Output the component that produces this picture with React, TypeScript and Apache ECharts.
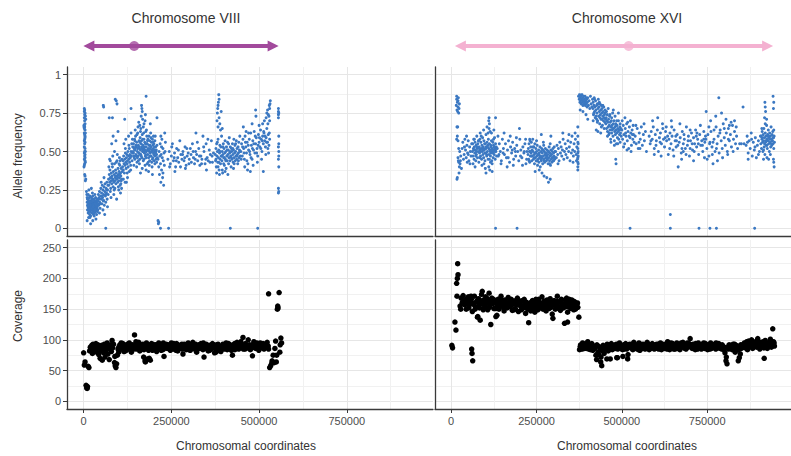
import React, { useEffect, useRef } from "react";
import * as echarts from "echarts";

// ---------- axis & layout values ----------
const X_MIN = -47403;
const X_MAX = 995469;
const X_TICKS = [0, 250000, 500000, 750000];
const X_MINOR = [125000, 375000, 625000, 875000];
const AF_MIN = -0.05;
const AF_MAX = 1.05;
const AF_TICKS = [0, 0.25, 0.5, 0.75, 1];
const AF_MINOR = [0.125, 0.375, 0.625, 0.875];
const COV_MIN = -12.5;
const COV_MAX = 262.5;
const COV_TICKS = [0, 50, 100, 150, 200, 250];
const COV_MINOR = [25, 75, 125, 175, 225];

const TITLES = ["Chromosome VIII", "Chromosome XVI"];
const Y_TITLES = ["Allele frequency", "Coverage"];
const X_TITLE = "Chromosomal coordinates";

// chromosome arrows (start, end) and centromere position, in bp
const ARROW_VIII = [15000, 540000];
const CENTRO_VIII = 144000;
const ARROW_XVI = [27000, 927000];
const CENTRO_XVI = 520000;

// ---------- data: [position kb, allele frequency %] ----------
const AF_VIII: number[][] = [
[1,40],[1,67],[2,78],[2,76],[3,74],[2,72],[3,70],[4,68],[2,67],[3,66],[4,64],[2,62],[3,61],[4,60],[3,58],[2,57],[4,56],[3,55],[2,53],[4,52],[3,50],[2,49],[4,48],[3,47],[2,45],[4,44],[3,42],[2,41],[5,43],[4,75],[3,77],[1,66],[5,62],[4,59],[5,50],[3,35],[4,34],[6,32],[5,31],[2,65],[4,46],[6,71],[5,73],
[8,24],[9,22],[10,20],[10,17],[11,15],[11,12],[12,19],[12,14],[13,10],[13,22],[14,16],[14,13],[15,18],[15,11],[16,14],[16,20],[17,9],[17,16],[18,13],[18,21],[19,15],[19,11],[20,18],[20,8],[21,14],[21,12],[22,17],[22,20],[23,13],[23,10],[24,16],[24,19],[25,12],[25,15],[26,14],[26,21],[27,11],[27,17],[28,13],[28,9],[29,16],[29,19],[30,14],[30,12],[31,18],[31,10],[32,15],[32,22],[33,13],[33,17],[34,11],[34,20],[35,16],[35,14],[36,12],[36,18],[37,15],[37,9],[38,17],[38,13],[39,19],[39,14],[40,16],[40,12],[10,5],[14,7],[20,3],[26,5],[30,8],[35,6],[15,25],[25,23],[22,26],[18,7],
[12,17],[16,12],[20,15],[24,13],[28,18],[32,12],[36,15],[11,19],[19,17],[27,14],[33,16],[39,11],
[41,18],[42,22],[43,15],[44,20],[45,24],[46,17],[47,13],[48,21],[49,26],[50,19],[51,23],[52,16],[53,28],[54,20],[55,25],[56,18],[57,22],[58,27],[59,15],[60,24],[61,29],[62,21],[63,17],[64,26],[65,23],[66,30],[67,19],[68,25],[69,28],[70,22],[45,10],[55,12],[60,9],[68,14],[50,30],[58,33],[43,19],[47,16],[53,21],[57,18],[63,22],[66,25],[56,80],[57,79],
[71,32],[72,28],[73,35],[74,30],[75,38],[76,33],[77,26],[78,31],[79,36],[80,29],[81,34],[82,40],[83,32],[84,27],[85,37],[86,30],[87,35],[88,42],[89,31],[90,33],[91,38],[92,29],[93,36],[94,32],[95,44],[96,34],[97,30],[98,39],[99,35],[100,31],[101,37],[102,33],[103,41],[104,28],[105,36],[106,34],[107,39],[108,32],[109,45],[110,37],[80,55],[84,60],[88,50],[92,57],[96,48],[74,45],[78,20],[86,22],[94,19],[100,25],[105,23],[98,63],[73,72],[82,72],[90,84],[93,83],[95,81],[76,44],[102,46],[79,33],[85,31],[91,34],[97,33],[103,35],[107,31],
[72,40],[76,24],[81,42],[87,25],[93,43],[99,27],[104,44],[108,26],[113,32],[119,52],[124,36],[129,54],[134,38],[139,58],[122,30],[83,47],[89,26],[101,42],[106,29],
[111,40],[112,44],[113,38],[114,47],[115,42],[116,36],[117,45],[118,41],[119,49],[120,43],[121,39],[122,46],[123,48],[124,42],[125,44],[126,50],[127,40],[128,47],[129,45],[130,52],[131,43],[132,48],[133,46],[134,41],[135,50],[136,47],[137,55],[138,44],[139,49],[140,53],[115,55],[120,58],[125,33],[130,37],[135,62],[118,30],[128,60],[117,71],[135,78],
[141,50],[142,55],[143,47],[144,52],[145,58],[146,45],[147,51],[148,60],[149,48],[150,53],[151,56],[152,43],[153,50],[154,62],[155,47],[156,54],[157,49],[158,57],[159,52],[160,45],[161,59],[162,51],[163,48],[164,55],[165,53],[166,46],[167,61],[168,50],[169,54],[170,44],[171,52],[172,58],[173,49],[174,56],[175,51],[176,47],[177,63],[178,53],[179,50],[180,55],[181,42],[182,57],[183,48],[184,52],[185,46],[186,60],[187,50],[188,44],[189,54],[190,49],[191,53],[192,47],[193,56],[194,43],[195,51],[196,58],[197,46],[198,52],[199,49],[200,55],[201,44],[202,50],[203,57],[204,47],[205,53],[206,45],[207,51],[208,48],[209,54],[210,46],
[142,49],[144,46],[146,57],[148,53],[150,47],[152,61],[154,52],[156,44],[158,49],[160,56],[162,63],[164,47],[166,52],[168,58],[170,51],[172,45],[174,50],[176,55],[178,46],[180,60],[182,51],[184,43],[186,54],[188,57],[190,52],[192,59],[194,50],[196,45],[198,56],[200,48],[202,53],[204,60],[206,50],[208,43],
[143,41],[147,64],[151,40],[155,66],[159,42],[163,65],[167,39],[171,62],[175,41],[179,64],[183,58],[187,41],[191,62],[195,40],[199,60],[203,42],
[145,52],[149,54],[153,46],[157,53],[161,48],[165,57],[169,50],[173,53],[177,48],[181,55],[185,51],[189,47],[193,50],[197,54],[201,51],[205,49],
[165,80],[166,78],[167,76],[164,73],[168,71],[172,68],[175,70],[178,86],[170,66],[160,67],[157,69],[176,74],[162,36],[178,38],[185,37],[196,35],[190,68],
[212,45],[214,40],[215,50],[216,35],[218,55],[219,42],[220,30],[221,48],[222,38],[223,58],[224,46],[225,33],[226,52],[227,44],[228,28],[229,49],[230,41],[231,62],[217,47],[222,53],[226,36],[209,72],[220,60],[232,50],[233,56],
[63,0],[212,5],[213,3],[214,4],[219,0],[242,0],[418,0],[496,0],
[240,45],[244,50],[247,42],[250,47],[253,55],[256,44],[259,49],[262,40],[265,52],[268,46],[271,43],[274,57],[277,48],[280,45],[283,50],[286,44],[289,53],[292,41],[295,47],[298,49],[301,45],[304,52],[307,43],[310,55],[313,46],[316,42],[319,50],[322,48],[325,44],[328,52],[331,41],[334,47],[337,45],[340,60],[343,50],[346,42],[349,55],[352,46],[355,44],[358,51],[361,48],[364,57],[367,43],[370,49],
[245,40],[251,53],[258,46],[264,44],[270,51],[276,40],[282,48],[288,46],[294,52],[300,42],[306,48],[312,50],[318,45],[324,56],[330,47],[336,42],[342,53],[348,45],[354,58],[360,43],[366,47],[260,37],[320,62],[290,39],[350,38],
[375,48],[376,44],[377,52],[378,40],[379,55],[380,47],[381,50],[382,43],[383,58],[384,46],[385,51],[386,38],[387,49],[388,54],[389,45],[390,42],[391,53],[392,47],[393,60],[394,44],[395,50],[396,36],[397,48],[398,55],[399,46],[400,52],[401,41],[402,49],[403,57],[404,45],[405,50],[406,39],[407,53],[408,47],[409,44],[410,56],[411,48],[412,51],[413,42],[414,46],[415,59],[416,49],[417,44],[418,53],[419,47],[420,40],[421,52],[422,50],[423,45],[424,55],[425,48],[426,43],[427,51],[428,58],[429,46],[430,49],[431,54],[432,44],[433,50],[434,47],[435,57],[436,45],[437,52],[438,48],[439,42],[440,53],[441,49],[442,56],[443,46],[444,51],[445,60],[446,47],
[377,45],[381,56],[385,43],[389,50],[393,47],[397,53],[401,46],[405,44],[409,51],[413,55],[417,50],[421,46],[425,52],[429,42],[433,55],[437,47],[441,44],[445,50],[379,36],[387,35],[395,38],[403,37],[411,35],[383,40],[399,42],[427,39],
[380,70],[381,75],[382,78],[383,80],[384,82],[385,87],[386,72],[383,66],[388,68],[392,76],[390,64],[395,65],[386,84],
[448,50],[450,55],[452,47],[454,58],[456,52],[458,45],[460,60],[462,53],[464,49],[466,56],[468,42],[470,51],[472,58],[474,48],[476,62],[478,54],[480,45],[482,57],[484,51],[486,63],[488,49],[490,55],[492,59],[494,52],[496,47],[498,61],[500,56],[502,53],[504,64],[506,58],[508,50],[510,60],[512,55],[514,62],[516,57],[518,53],[520,59],[522,65],[524,56],[526,61],[528,54],[530,58],
[449,45],[453,53],[457,49],[461,56],[465,44],[469,54],[473,50],[477,46],[481,52],[485,55],[489,60],[493,49],[497,54],[501,59],[505,52],[509,57],[513,63],[517,60],[521,56],[525,52],[529,62],[459,40],[467,38],[483,41],[475,37],[495,43],[507,45],[519,48],[527,49],
[455,66],[463,63],[470,62],[480,68],[490,77],[491,73],[500,67],[510,68],[515,70],[520,72],[522,75],[524,77],[526,74],[528,73],[530,78],[531,81],[532,83],[529,80],[525,68],[512,37],[530,70],
[555,78],[555,76],[555,74],[555,72],[556,60],[556,55],[555,53],[556,47],[555,45],[556,40],[555,26],[556,24],[555,23],[556,50],[556,75]
];

const AF_XVI: number[][] = [
[15,80],[16,84],[17,77],[18,82],[19,76],[20,79],[21,85],[22,75],[23,78],[24,81],[16,86],[20,83],[17,66],[19,66],[16,58],[18,60],[20,57],[20,46],[22,43],[24,40],[21,44],[23,36],[18,33],[17,32],[26,42],[28,47],[25,50],[27,44],[30,39],[22,52],
[32,52],[34,56],[36,45],[38,48],[40,58],[42,51],[44,46],[46,54],[48,49],[50,57],[52,44],[54,53],[56,50],[58,47],[60,55],[45,60],[55,42],[50,48],[39,53],[47,43],
[62,50],[63,55],[64,47],[65,52],[66,58],[67,45],[68,53],[69,49],[70,56],[71,51],[72,44],[73,54],[74,48],[75,60],[76,52],[77,46],[78,55],[79,50],[80,57],[81,43],[82,53],[83,49],[84,58],[85,51],[86,47],[87,56],[88,52],[89,45],[90,54],[91,50],[92,59],[93,48],[94,53],[95,46],[96,57],[97,51],[98,55],[99,44],[100,52],[101,49],[102,61],[103,53],[104,47],[105,56],[106,50],[107,54],[108,45],[109,58],[110,52],[111,48],[112,55],[113,51],[114,63],[115,47],[116,53],[117,49],[118,57],[119,44],[120,52],[121,50],[122,56],[123,46],[124,54],[125,51],[126,48],[127,59],[128,52],[129,45],[130,55],[131,50],[132,53],[133,47],
[64,42],[68,58],[72,47],[76,53],[80,57],[84,46],[88,60],[92,52],[96,42],[100,55],[104,48],[108,62],[112,45],[116,54],[120,42],[124,58],[128,50],[70,40],[90,41],[110,40],[100,39],[115,43],[66,51],[74,50],[82,52],[86,50],[94,51],[98,49],[102,52],[106,53],[114,50],[118,51],[122,49],[126,53],[130,51],
[105,66],[110,70],[111,72],[112,68],[111,65],[118,62],[125,64],[130,72],[95,64],[85,62],[102,36],[113,38],[120,37],
[135,52],[138,47],[141,55],[144,50],[147,44],[150,58],[153,52],[156,48],[159,55],[162,46],[165,51],[168,57],[171,43],[174,53],[177,49],[180,56],[183,45],[186,52],[189,47],[192,54],[195,50],[198,44],[201,58],[204,51],[207,46],[210,53],[213,49],[216,55],[219,42],[222,50],
[137,60],[146,42],[155,62],[164,40],[173,60],[182,41],[191,59],[200,65],[209,41],[218,58],[140,48],[152,49],[167,46],[179,51],[188,50],[203,47],[214,50],[221,45],
[225,48],[226,52],[227,45],[228,55],[229,50],[230,43],[231,57],[232,47],[233,53],[234,49],[235,56],[236,44],[237,51],[238,47],[239,58],[240,50],[241,45],[242,53],[243,48],[244,42],[245,55],[246,49],[247,46],[248,52],[249,44],[250,50],[251,47],[252,54],[253,41],[254,48],[255,45],[256,51],[257,43],[258,49],[259,46],[260,53],[261,40],[262,47],[263,50],[264,44],[265,52],[266,46],[267,49],[268,42],[269,51],[270,47],[271,54],[272,45],[273,50],[274,43],[275,48],[276,52],[277,46],[278,49],[279,44],[280,47],[281,51],[282,45],[283,48],[284,42],[285,50],[286,46],[287,53],[288,44],[289,49],[290,47],[291,41],[292,51],[293,45],[294,48],[295,43],[296,50],[297,46],[298,52],[299,44],[300,49],[301,47],[302,53],[303,45],[304,50],
[228,44],[232,50],[236,47],[240,53],[244,46],[248,49],[252,44],[256,48],[260,47],[264,45],[268,51],[272,44],[276,48],[280,46],[284,50],[288,42],[292,48],[296,46],[300,44],[304,46],[230,58],[250,57],[270,56],[290,55],
[264,61],[292,60],[246,37],[266,36],[272,34],[280,33],[285,30],[290,32],[258,38],
[306,50],[308,46],[310,54],[312,48],[314,52],[316,44],[318,56],[320,49],[322,53],[324,47],[326,51],[328,58],[330,45],[332,50],[334,55],[336,48],[338,52],[340,46],[342,57],[344,50],[346,53],[348,44],[350,56],[352,49],[354,60],[356,51],[358,47],[360,55],[362,50],[364,58],[366,48],[368,53],[370,45],[371,60],[371,56],[371,52],[371,49],[371,46],[371,43],[371,40],[371,38],[372,55],[372,50],[372,47],[372,42],[313,42],[327,62],[345,61],[357,43],[363,62],[367,44],
[373,86],[375,84],[376,87],[377,82],[378,85],[379,83],[380,86],[381,81],[382,84],[383,87],[384,82],[385,85],[386,80],[387,83],[388,86],[389,81],[390,84],[391,82],[392,86],[393,80],[394,83],[395,85],[396,81],[397,84],[398,79],[399,82],[400,85],[402,80],[404,83],[406,78],[408,86],[410,81],[412,79],[414,84],[371,66],[378,77],[386,76],[395,74],[400,71],
[415,78],[416,82],[417,74],[418,80],[419,85],[420,76],[421,79],[422,72],[423,83],[424,77],[425,64],[426,80],[427,75],[428,81],[429,70],[430,78],[431,84],[432,73],[433,79],[434,76],[435,68],[436,81],[437,74],[438,77],[439,71],[440,80],[441,75],[442,78],[443,67],[444,73],[445,76],[446,70],[447,79],[448,72],[449,74],[450,69],[451,77],[452,71],
[416,70],[420,84],[424,73],[428,69],[432,81],[436,72],[440,66],[444,80],[448,65],[418,75],[426,71],[434,82],[442,71],[450,75],[430,63],[438,62],
[453,68],[454,72],[455,65],[456,70],[457,74],[458,63],[459,69],[460,66],[461,71],[462,61],[463,67],[464,73],[465,64],[466,69],[467,58],[468,66],[469,70],[470,62],[471,67],[472,64],[473,75],[474,60],[475,68],[476,65],[477,70],[478,57],[479,63],[480,66],[481,61],[482,68],[483,64],[484,55],[485,62],[486,67],[487,59],[488,65],[489,63],[490,70],[491,58],[492,64],[493,61],[494,66],[495,56],[496,62],[497,65],[498,60],
[455,76],[460,78],[465,74],[470,72],[475,77],[480,73],[485,70],[490,75],[495,68],[458,60],[468,56],[478,54],[488,55],[463,62],[473,65],[483,67],[493,64],[482,45],[483,42],
[500,64],[502,58],[504,67],[506,61],[508,55],[510,65],[512,60],[514,68],[516,57],[518,63],[520,52],[522,66],[524,59],[526,62],[528,54],[530,64],[532,58],[534,61],[536,56],[501,70],[509,72],[517,69],[525,70],[533,67],[505,53],[515,51],[527,50],[521,60],[511,62],[531,61],
[539,60],[542,55],[545,65],[548,52],[551,62],[554,58],[557,66],[560,54],[563,61],[566,57],[569,63],[572,50],[541,67],[553,52],[565,68],[550,56],
[580,60],[583,55],[586,63],[589,58],[592,66],[595,52],[598,61],[601,57],[604,64],[607,50],[610,59],[613,62],[616,55],[619,68],[622,58],[625,53],[628,63],[631,57],[634,60],[636,48],[590,70],[605,72],[620,65],[630,66],[595,48],[615,47],[585,57],[600,54],[612,56],[627,59],
[638,58],[641,62],[644,55],[647,60],[650,51],[653,64],[656,57],[659,53],[662,61],[665,40],[668,56],[671,59],[674,49],[677,63],[680,55],[683,58],[686,52],[689,66],[692,54],[695,60],[698,47],[701,57],[704,62],[707,51],[710,59],[713,55],[716,64],[719,53],[722,58],[725,48],[728,61],[731,54],[734,57],[737,50],[740,63],[743,56],
[640,52],[646,66],[652,47],[658,60],[664,54],[670,68],[676,52],[682,61],[688,48],[694,57],[700,64],[706,55],[712,50],[718,60],[724,55],[730,67],[736,54],[742,46],[660,57],[680,50],[700,52],[720,62],[740,58],[645,70],[675,45],[710,44],[745,60],
[746,58],[749,52],[752,61],[755,47],[758,56],[761,63],[764,53],[767,42],[770,58],[773,50],[776,66],[779,55],[782,60],[785,49],[788,64],[791,57],[794,52],[797,68],[800,59],[803,54],[806,62],[809,50],[812,65],[815,57],[818,61],[821,53],[824,67],[827,58],[830,63],[833,55],[836,60],[839,52],
[747,76],[784,85],[792,75],[760,70],[775,73],[805,71],[820,69],[835,66],[750,45],[765,48],[780,44],[795,46],[810,48],[826,50],[755,66],[770,64],[787,62],[800,65],[815,67],[830,70],[757,55],[767,56],[777,52],[812,58],
[845,55],[850,55],[855,79],[858,55],
[864,54],[867,60],[870,49],[873,57],[876,52],[879,62],[882,47],[885,56],[888,51],[891,59],[894,46],[897,54],[900,57],[903,50],[906,60],[870,45],[880,58],[890,53],[900,48],[868,56],
[907,55],[908,60],[909,52],[910,58],[911,63],[912,56],[913,50],[914,61],[915,57],[916,65],[917,53],[918,59],[919,48],[920,62],[921,56],[922,60],[923,54],[924,67],[925,58],[926,52],[927,61],[928,57],[929,64],[930,55],[931,59],[932,50],[933,62],[934,56],[935,60],[936,53],[937,66],[938,58],[939,54],[940,61],[941,57],[942,63],[943,55],[944,59],[945,52],[946,60],[947,56],
[910,65],[915,51],[920,68],[925,54],[930,60],[935,48],[940,57],[945,64],[912,59],[918,55],[922,57],[928,60],[933,58],[938,55],[943,59],
[919,82],[920,79],[921,76],[918,72],[924,71],[943,86],[945,82],[944,78],[945,43],[946,40],[944,45],[925,46],[930,45],[915,45],
[130,0],[193,0],[524,0],[642,0],[642,9],[726,0],[758,0],[777,0],[889,0]
];

// ---------- data: [position kb, coverage] ----------
const COV_VIII: number[][] = [
[0,79],[2,59],[4,64],[7,26],[9,22],[11,24],[10,21],[15,55],[13,57],
[17,82],[19,88],[21,85],[23,91],[25,78],[27,93],[29,87],[31,83],[33,90],[35,94],[37,80],[39,86],[41,92],[43,76],
[45,88],[47,70],[49,82],[51,91],[53,67],[55,85],[57,79],[59,93],[61,72],[63,88],[65,84],[67,95],[69,77],[71,90],[73,68],[75,86],[77,92],[79,81],[81,99],[83,87],[85,93],
[88,63],[90,58],[92,55],[94,61],[89,73],[96,75],[98,85],[100,80],
[100,88],[103,92],[106,85],[109,90],[112,94],[115,81],[118,87],[121,91],[124,84],[127,89],[130,95],[133,86],[136,80],[139,92],[142,88],[145,108],[148,93],[151,85],[154,90],[157,96],[160,82],[163,89],[166,87],[169,93],[172,84],[175,66],[178,68],[181,91],[184,86],[187,70],[190,88],[193,94],[196,83],[199,90],[202,87],[205,92],[208,81],[211,89],[214,95],[217,85],[220,91],[223,88],[226,84],[229,73],[232,90],[235,93],[238,86],[241,89],[244,92],[247,83],[250,95],[253,88],[256,85],[259,91],[262,87],[265,94],[268,82],[271,89],[274,90],[277,86],[280,93],[283,77],[286,88],[289,91],[292,84],[295,89],[298,95],[301,86],[304,83],[307,90],[310,92],[313,87],[316,85],[319,93],[322,80],[325,89],[328,91],[331,86],[334,94],[337,88],[340,84],[343,72],[346,90],[349,93],[352,87],[355,82],[358,91],[361,88],[364,85],[367,94],[370,89],[373,79],[376,86],[379,92],[382,83],[385,88],[388,90],[391,81],[394,87],[397,93],[400,85],[403,89],[406,95],[409,84],[412,90],[415,87],[418,92],[421,83],[424,75],[427,88],[430,94],[433,86],[436,91],[439,89],[442,85],[445,93],[448,97],[451,88],[454,104],[457,90],[460,85],[463,92],[466,87],[469,100],[472,89],[475,84],[478,91],[481,74],[484,93],[487,88],[490,86],[493,95],[496,90],[499,83],[502,92],[505,87],[508,89],[511,94],[514,85],[517,91],[520,88],[523,96],[526,90],
[101,84],[107,95],[113,89],[119,82],[125,93],[131,88],[137,91],[143,85],[149,97],[155,87],[161,92],[167,85],[173,90],[179,95],[185,83],[191,89],[197,93],[203,84],[209,92],[215,88],[221,83],[227,95],[233,87],[239,92],[245,86],[251,90],[257,94],[263,83],[269,92],[275,88],[281,85],[287,93],[293,90],[299,84],[305,91],[311,96],[317,88],[323,84],[329,92],[335,89],[341,95],[347,86],[353,91],[359,83],[365,89],[371,92],[377,80],[383,93],[389,85],[395,89],[401,92],[407,86],[413,94],[419,88],[425,91],[431,84],[437,96],[443,88],[449,91],[455,85],[461,94],[467,89],[473,92],[479,87],[485,97],[491,91],[497,86],[503,95],[509,88],[515,93],[521,90],[527,85],
[171,72],[176,64],[183,69],[190,67],
[527,175],[530,55],[533,58],[537,66],[540,75],[543,63],[545,86],[547,98],[549,64],[552,150],[553,155],[554,152],[557,177],[559,80],[560,92],[562,103],[564,95],[550,75],[536,62]
];

const COV_XVI: number[][] = [
[2,91],[4,87],[11,129],[14,116],[16,192],[18,200],[20,206],[19,224],[17,171],
[26,155],[29,168],[32,160],[35,172],[38,158],[41,165],[44,150],[47,163],[50,170],[53,157],[56,161],[59,166],[62,146],[65,159],[68,171],[71,154],[74,162],[77,137],[80,167],[83,152],[86,160],[89,174],[92,158],[95,165],[98,153],[101,170],[104,161],[107,149],[110,164],[113,156],[116,125],[119,168],[122,159],[125,151],[128,163],[131,138],[134,157],[137,166],[140,150],[143,161],[146,171],[149,155],[152,160],[155,147],[158,165],[161,158],[164,152],[167,169],[170,161],[173,154],[176,166],[179,148],[182,159],[185,163],[188,151],[191,157],[194,168],[197,146],[200,160],[203,155],[206,149],[209,164],[212,152],[215,158],[218,143],[221,161],[224,150],[227,128],[230,156],[233,147],[236,162],[239,153],[242,158],[245,145],[248,166],[251,155],[254,149],[257,161],[260,152],[263,158],[266,170],[269,150],[272,163],[275,156],[278,147],[281,165],[284,158],[287,151],[290,167],[293,160],[296,142],[299,157],[302,164],[305,150],[308,159],[311,171],[314,154],[317,162],[320,148],[323,166],[326,157],[329,152],[332,127],[335,160],[338,168],[341,145],[344,158],[347,163],[350,151],[353,165],[356,157],[359,149],[362,162],[365,155],[368,158],[371,153],[374,137],
[28,150],[34,162],[40,157],[46,167],[52,152],[58,171],[64,158],[70,150],[76,164],[82,158],[88,163],[94,149],[100,158],[106,167],[112,153],[118,160],[124,166],[130,151],[136,162],[142,157],[148,165],[154,152],[160,161],[166,155],[172,163],[178,157],[184,149],[190,164],[196,158],[202,163],[208,154],[214,166],[220,156],[226,152],[232,160],[238,164],[244,150],[250,159],[256,166],[262,155],[268,160],[274,151],[280,157],[286,163],[292,153],[298,161],[304,156],[310,163],[316,151],[322,160],[328,157],[334,165],[340,154],[346,166],[352,158],[358,163],[364,150],[370,160],
[91,179],[111,176],[60,85],[61,78],[63,66],[78,138],[85,132],[134,140],[298,135],[341,129],
[376,84],[379,92],[382,88],[385,95],[388,90],[391,86],[394,93],[397,89],[400,97],[403,85],[406,91],[409,88],[412,94],[415,83],[418,90],[421,87],[424,75],[427,92],[430,80],[433,89],[436,84],[439,72],[442,86],[445,91],[448,78],[451,88],[454,85],[457,93],[460,82],[463,90],[466,87],[469,94],[472,84],[475,91],[478,89],[481,86],[484,93],[487,71],[490,88],[493,95],[496,86],[499,90],[502,84],[505,92],[508,88],[511,94],[514,85],[517,69],[520,90],[523,93],[526,87],[529,91],[532,84],[535,96],[538,89],[541,86],[544,92],[547,88],[550,95],[553,83],[556,90],[559,87],[562,93],[565,89],[568,85],[571,92],[574,96],[577,88],[580,84],[583,91],[586,87],[589,94],[592,89],[595,85],[598,92],[601,90],[604,86],[607,93],[610,88],[613,95],[616,84],[619,91],[622,89],[625,86],[628,93],[631,90],[634,97],[637,87],[640,84],[643,92],[646,89],[649,94],[652,85],[655,91],[658,88],[661,95],[664,86],[667,90],[670,84],[673,93],[676,89],[679,96],[682,87],[685,91],[688,85],[691,92],[694,88],[697,94],[700,102],[703,89],[706,86],[709,93],[712,90],[715,84],[718,92],[721,88],[724,95],[727,87],[730,91],[733,85],[736,93],[739,89],[742,86],[745,94],[748,90],[751,84],[754,92],[757,88],[760,95],[763,86],[766,91],[769,89],[772,93],[775,85],[778,90],[781,87],[784,94],[787,88],[790,91],[793,85],[796,89],[799,84],[802,79],[805,66],[808,61],[811,88],[814,92],[817,86],[820,90],[823,84],[826,93],[829,88],[832,80],[835,91],[838,85],[841,66],[844,71],[847,77],[850,86],[853,92],[856,89],[859,95],[862,87],[865,91],[868,84],[871,98],[874,89],[877,93],[880,100],[883,86],[886,94],[889,90],[892,97],[895,88],[898,102],[901,92],[904,85],[907,96],[910,89],[913,93],[916,87],[917,70],[920,99],[923,91],[926,86],[929,95],[932,90],[935,101],[938,88],[941,93],[944,97],[947,90],[942,118],
[378,89],[384,85],[390,93],[396,86],[402,92],[408,84],[414,90],[420,86],[426,68],[432,76],[438,64],[441,58],[444,82],[450,89],[456,69],[462,84],[466,69],[470,88],[476,86],[482,92],[485,71],[488,85],[494,90],[500,88],[503,73],[506,85],[512,91],[518,76],[524,88],[530,93],[536,86],[542,90],[548,84],[554,93],[560,86],[566,91],[572,88],[578,93],[584,86],[590,91],[596,88],[602,93],[608,85],[614,90],[620,93],[626,88],[632,85],[638,91],[644,95],[650,88],[656,85],[662,91],[668,88],[674,95],[680,90],[686,86],[692,95],[698,90],[704,92],[710,87],[716,94],[722,85],[728,91],[734,89],[740,95],[746,87],[752,91],[758,85],[764,92],[770,88],[776,95],[782,89],[788,86],[794,92],[800,88],[806,72],[812,85],[818,91],[824,87],[830,93],[836,88],[842,84],[848,92],[854,88],[860,93],[866,97],[872,92],[878,95],[884,89],[890,93],[896,98],[902,95],[908,91],[914,97],[922,94],[928,89],[934,96],[940,92],[946,95]
];

// ---------- styling ----------
const FONT = "'Liberation Sans', Arial, Helvetica, sans-serif";
const BLUE = "#3b78c2";
const PURPLE = "#a24a9c";
const PINK = "#f4b1d1";
const AXIS_COL = "#3a3a3a";
const GRID_MAJOR = "#e6e6e6";
const GRID_MINOR = "#f1f1f1";

const PANEL_W = 366;
const PANEL_H = 169;
const LEFT_X = [67, 435];
const TOP_Y = [67, 240];

const afFmt = (v: number) => (v === 0 ? "0" : v === 1 ? "1" : v.toFixed(2));

function App() {
  const ref = useRef<HTMLDivElement>(null);

  useEffect(() => {
    if (!ref.current) return;
    const chart = echarts.init(ref.current, undefined, { renderer: "svg" });

    const grids: any[] = [];
    const xAxes: any[] = [];
    const yAxes: any[] = [];
    const series: any[] = [];

    for (let row = 0; row < 2; row++) {
      for (let col = 0; col < 2; col++) {
        const g = grids.length;
        grids.push({ left: LEFT_X[col], top: TOP_Y[row], width: PANEL_W, height: PANEL_H, containLabel: false });
        const showX = row === 1;
        const showY = col === 0;
        const yMin = row === 0 ? AF_MIN : COV_MIN;
        const yMax = row === 0 ? AF_MAX : COV_MAX;
        const yTicks = row === 0 ? AF_TICKS : COV_TICKS;
        const yMinor = row === 0 ? AF_MINOR : COV_MINOR;
        xAxes.push({
          type: "value", gridIndex: g, min: X_MIN, max: X_MAX, position: "top",
          axisLine: { show: false }, axisLabel: { show: false },
          axisTick: { show: false, customValues: X_MINOR },
          splitLine: { show: true, lineStyle: { color: GRID_MINOR, width: 1 } },
        });
        yAxes.push({
          type: "value", gridIndex: g, min: yMin, max: yMax, position: "right",
          axisLine: { show: false }, axisLabel: { show: false },
          axisTick: { show: false, customValues: yMinor },
          splitLine: { show: true, lineStyle: { color: GRID_MINOR, width: 1 } },
        });
        xAxes.push({
          type: "value", gridIndex: g, min: X_MIN, max: X_MAX, position: "bottom",
          axisLine: { show: true, onZero: false, lineStyle: { color: AXIS_COL, width: 1.3 } },
          axisTick: { show: showX, length: 4, customValues: X_TICKS, lineStyle: { color: AXIS_COL, width: 1 } },
          axisLabel: { show: showX, customValues: X_TICKS, color: "#4d4d4d", fontSize: 11, fontFamily: FONT, margin: 6, formatter: (v: number) => String(v) },
          splitLine: { show: true, lineStyle: { color: GRID_MAJOR, width: 1 } },
        });
        yAxes.push({
          type: "value", gridIndex: g, min: yMin, max: yMax, position: "left",
          axisLine: { show: true, onZero: false, lineStyle: { color: AXIS_COL, width: 1.3 } },
          axisTick: { show: showY, length: 4, customValues: yTicks, lineStyle: { color: AXIS_COL, width: 1 } },
          axisLabel: { show: showY, customValues: yTicks, color: "#4d4d4d", fontSize: 11, fontFamily: FONT, margin: 6, formatter: row === 0 ? afFmt : (v: number) => String(v) },
          splitLine: { show: true, lineStyle: { color: GRID_MAJOR, width: 1 } },
        });
        const axisIdx = xAxes.length - 1;
        const raw = row === 0 ? (col === 0 ? AF_VIII : AF_XVI) : (col === 0 ? COV_VIII : COV_XVI);
        const data = raw.map(([kb, v]) => [kb * 1000, row === 0 ? v / 100 : v]);
        series.push({
          type: "scatter", xAxisIndex: axisIdx, yAxisIndex: axisIdx, data,
          symbol: "circle",
          symbolSize: row === 0 ? 3 : 5.5,
          itemStyle: { color: row === 0 ? BLUE : "#000000", opacity: 1 },
          silent: true, z: 3,
        });
      }
    }

    const arrows = [
      { span: ARROW_VIII, centro: CENTRO_VIII, color: PURPLE },
      { span: ARROW_XVI, centro: CENTRO_XVI, color: PINK },
    ];
    arrows.forEach((a, col) => {
      const g = grids.length;
      grids.push({ left: LEFT_X[col], top: 36, width: PANEL_W, height: 20 });
      xAxes.push({ type: "value", gridIndex: g, min: X_MIN, max: X_MAX, show: false });
      yAxes.push({ type: "value", gridIndex: g, min: -1, max: 1, show: false });
      const idx = xAxes.length - 1;
      series.push({
        type: "scatter", xAxisIndex: idx, yAxisIndex: idx,
        data: [[a.centro, 0]], symbolSize: 10,
        itemStyle: { color: a.color }, silent: true, z: 5,
        markLine: {
          silent: true, animation: false,
          symbol: ["triangle", "triangle"], symbolSize: 11,
          label: { show: false },
          lineStyle: { color: a.color, width: 4, type: "solid", opacity: 1 },
          emphasis: { disabled: true },
          data: [[{ coord: [a.span[0], 0] }, { coord: [a.span[1], 0] }]],
        },
      });
    });

    const titleStyle = { fill: "#333333", fontSize: 14, fontFamily: FONT, textAlign: "center", textVerticalAlign: "middle" };
    const axTitle = { fill: "#333333", fontSize: 12, fontFamily: FONT, textAlign: "center", textVerticalAlign: "middle" };

    chart.setOption({
      animation: false,
      backgroundColor: "#ffffff",
      textStyle: { fontFamily: FONT },
      grid: grids,
      xAxis: xAxes,
      yAxis: yAxes,
      series,
      graphic: [
        { type: "text", x: 186, y: 18, style: { ...titleStyle, text: TITLES[0] } },
        { type: "text", x: 627, y: 18, style: { ...titleStyle, text: TITLES[1] } },
        { type: "text", x: 18, y: 156, rotation: Math.PI / 2, style: { ...axTitle, text: Y_TITLES[0] } },
        { type: "text", x: 18, y: 316, rotation: Math.PI / 2, style: { ...axTitle, text: Y_TITLES[1] } },
        { type: "text", x: 246, y: 446, style: { ...axTitle, text: X_TITLE } },
        { type: "text", x: 627, y: 446, style: { ...axTitle, text: X_TITLE } },
      ],
    });

    return () => chart.dispose();
  }, []);

  return (
    <div
      ref={ref}
      style={{ position: "absolute", left: 0, top: 0, width: 791, height: 456, background: "#fff" }}
    />
  );
}

export default App;
